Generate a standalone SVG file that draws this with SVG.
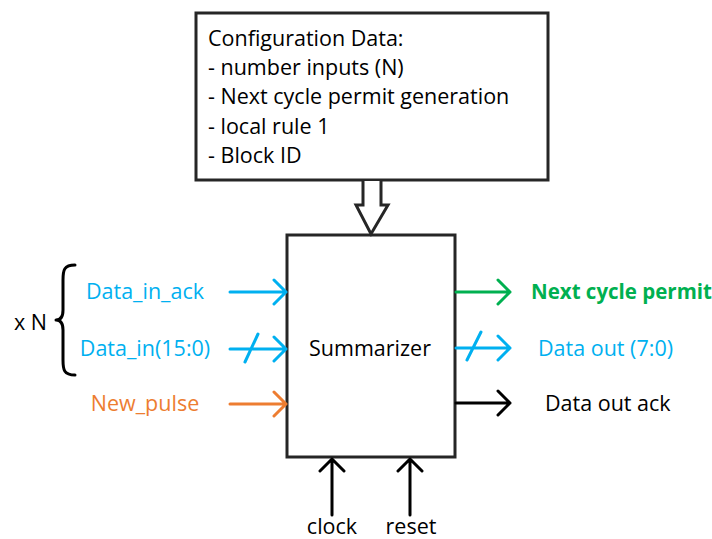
<svg xmlns="http://www.w3.org/2000/svg" width="712" height="539" viewBox="0 0 712 539">
<style>
text{font-family:"Open Sans","Liberation Sans",sans-serif;font-size:21.5px}
.box{fill:#fff;stroke:#262626;stroke-width:3}
.w{fill:none;stroke-width:3;stroke-linecap:round;stroke-linejoin:round}
.blue{stroke:#00b0f0}.tblue{fill:#00b0f0}
.org{stroke:#ed7d31}.torg{fill:#ed7d31}
.grn{stroke:#00b050}.tgrn{fill:#00b050;font-weight:bold;font-size:20.5px}
.blk{stroke:#000}
.mid{text-anchor:middle}
</style>
<rect width="712" height="539" fill="#fff"/>
<g id="config">
<rect class="box" x="196" y="13" width="352" height="167"/>
<text x="208" y="46">Configuration Data:</text>
<text x="208" y="75">- number inputs (N)</text>
<text x="208" y="104">- Next cycle permit generation</text>
<text x="208" y="134">- local rule 1</text>
<text x="208" y="163">- Block ID</text>
</g>
<g id="summarizer">
<rect class="box" x="287" y="235" width="168" height="222"/>
<text class="mid" x="370" y="356">Summarizer</text>
</g>
<g id="labels">
<text x="14" y="330">x N</text>
<text class="tblue mid" x="145" y="299">Data_in_ack</text>
<text class="tblue mid" x="145" y="356">Data_in(15:0)</text>
<text class="torg mid" x="145" y="411">New_pulse</text>
<text class="tgrn" x="531" y="299">Next cycle permit</text>
<text class="tblue" x="538" y="356">Data out (7:0)</text>
<text x="545" y="411">Data out ack</text>
<text class="mid" x="332" y="534">clock</text>
<text class="mid" x="411" y="534">reset</text>
</g>
<g id="connectors">
<path d="M363,181 V205 H356 L371,234 L388,205 H381 V181" fill="#fff" stroke="#262626" stroke-width="3" stroke-linejoin="miter"/>
<path class="w blk" d="M75,265 C64,265 63,270 63,280 V310 C63,317 60,320 56,320 C60,320 63,323 63,330 V360 C63,370 64,375 75,375" stroke-width="2.5"/>
<path class="w blue" d="M230,292 H286 M274,280 L286,292 L274,304"/>
<path class="w blue" d="M230,349 H286 M274,337 L286,349 L274,361 M245,362 L258,334"/>
<path class="w org" d="M230,404 H286 M274,392 L286,404 L274,416"/>
<path class="w grn" d="M456,292 H510 M498,280 L510,292 L498,304"/>
<path class="w blue" d="M456,348 H510 M498,336 L510,348 L498,360 M467,360 L481,332"/>
<path class="w blk" d="M456,403 H510 M498,391 L510,403 L498,415"/>
<path class="w blk" d="M332,515 V459 M320,471 L332,459 L344,471"/>
<path class="w blk" d="M410,515 V459 M398,471 L410,459 L422,471"/>
</g>
</svg>
